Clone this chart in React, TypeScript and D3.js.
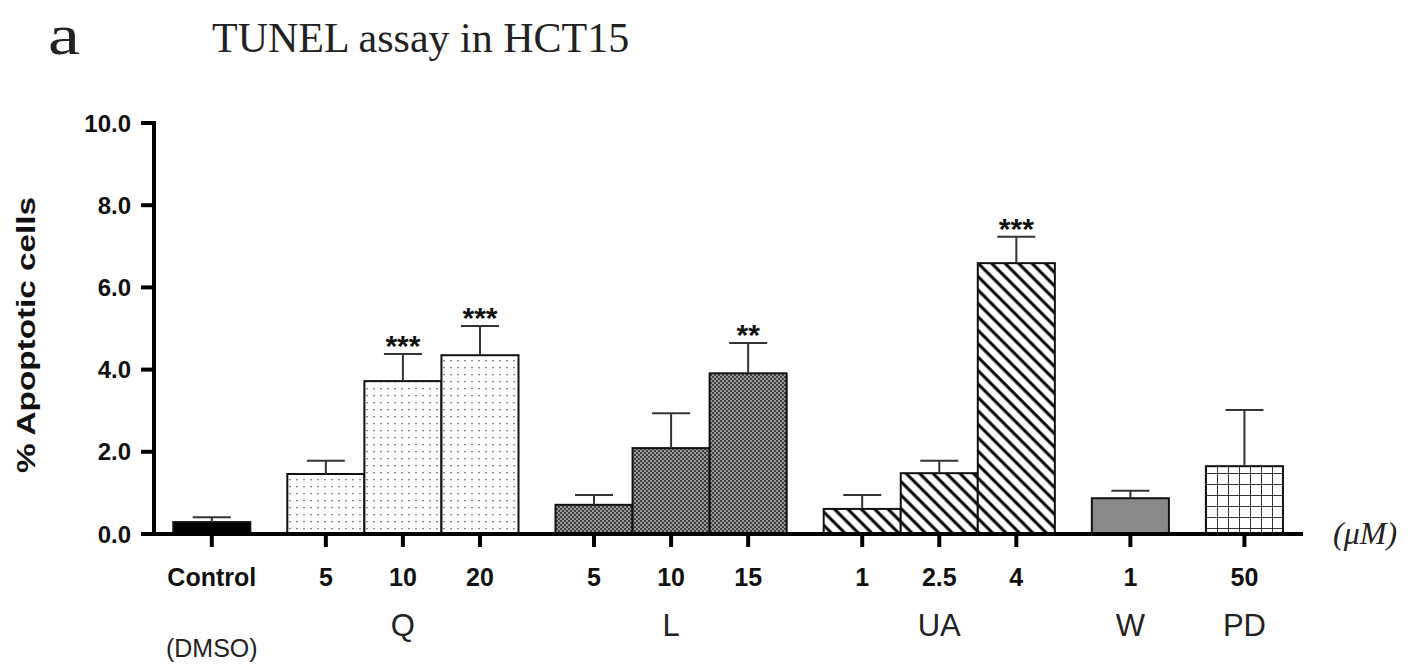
import React from "react";
import * as d3 from "d3";

// TUNEL assay in HCT15 — % apoptotic cells per treatment
const doses = ["Control", "5", "10", "20", "5", "10", "15", "1", "2.5", "4", "1", "50"];
const groups = ["Control", "Q", "Q", "Q", "L", "L", "L", "UA", "UA", "UA", "W", "PD"];
const means = [0.29, 1.46, 3.72, 4.35, 0.71, 2.09, 3.91, 0.61, 1.48, 6.59, 0.87, 1.65];
const sems = [0.12, 0.32, 0.66, 0.71, 0.24, 0.85, 0.74, 0.34, 0.3, 0.64, 0.18, 1.37];
const stars = ["", "", "***", "***", "", "", "**", "", "", "***", "", ""];
const groupNames = ["Q", "L", "UA", "W", "PD"];
const yTicks = [0, 2, 4, 6, 8, 10];

const width = 1416;
const height = 664;
const sans = "'Liberation Sans', Arial, Helvetica, sans-serif";
const serif = "'Liberation Serif', 'Times New Roman', serif";

const fills = {
  Control: "#000",
  Q: "url(#dotsQ)",
  L: "url(#dotsL)",
  UA: "url(#hatchUA)",
  W: "#8a8a8a",
  PD: "url(#gridPD)",
};

export default function App() {
  const y = d3.scaleLinear().domain([0, 10]).range([534, 123]);

  // slot index with a gap between treatment groups
  let gapCount = 0;
  const slots = groups.map((g, i) => {
    if (i > 0 && g !== groups[i - 1]) gapCount++;
    return i + gapCount * 0.48;
  });
  const x = d3.scaleLinear().domain([-0.75, 14.16]).range([154, 1303]);
  const bw = x(1) - x(0);
  const x0 = x.range()[0];
  const x1 = x.range()[1];

  const groupCenter = (name) => {
    const s = slots.filter((_, i) => groups[i] === name);
    return x(d3.mean(s));
  };

  return (
    <svg
      width={width}
      height={height}
      style={{ position: "absolute", left: 0, top: 0, background: "#fff" }}
    >
      <defs>
        <pattern id="dotsQ" width="7" height="7" patternUnits="userSpaceOnUse">
          <rect width="7" height="7" fill="#fff" />
          <rect x="2" y="3" width="2" height="1.3" fill="#8a8a8a" />
        </pattern>
        <pattern id="dotsL" width="4" height="4" patternUnits="userSpaceOnUse">
          <rect width="4" height="4" fill="#9a9a9a" />
          <circle cx="1" cy="1" r="1" fill="#222" />
          <circle cx="3" cy="3" r="1" fill="#222" />
        </pattern>
        <pattern
          id="hatchUA"
          width="9.5"
          height="9.5"
          patternUnits="userSpaceOnUse"
          patternTransform="rotate(-45)"
        >
          <rect width="9.5" height="9.5" fill="#fff" />
          <line x1="2" y1="0" x2="2" y2="9.5" stroke="#000" strokeWidth="3" />
        </pattern>
        <pattern id="gridPD" width="11" height="11" patternUnits="userSpaceOnUse" x="1206" y="0">
          <rect width="11" height="11" fill="#fff" />
          <line x1="0" y1="0" x2="11" y2="0" stroke="#000" strokeWidth="1.6" />
          <line x1="0" y1="0" x2="0" y2="11" stroke="#000" strokeWidth="1.6" />
        </pattern>
      </defs>

      {/* title */}
      <text
        x={48}
        y={54}
        fontFamily={serif}
        fontSize={56}
        textLength={32}
        lengthAdjust="spacingAndGlyphs"
        fill="#222"
      >
        a
      </text>
      <text x={212} y={52} fontFamily={serif} fontSize={42} fill="#222">
        TUNEL assay in HCT15
      </text>

      {/* bars */}
      {means.map((m, i) => (
        <rect
          key={"b" + i}
          x={x(slots[i]) - bw / 2}
          y={y(m)}
          width={bw}
          height={y(0) - y(m)}
          fill={fills[groups[i]]}
          stroke="#111"
          strokeWidth={2}
        />
      ))}

      {/* error bars */}
      {means.map((m, i) => {
        const cx = x(slots[i]);
        const top = y(m + sems[i]);
        return (
          <g key={"e" + i} stroke="#333" strokeWidth={2}>
            <line x1={cx} x2={cx} y1={y(m)} y2={top} />
            <line x1={cx - 19} x2={cx + 19} y1={top} y2={top} />
          </g>
        );
      })}

      {/* significance stars */}
      {stars.map((s, i) =>
        s ? (
          <text
            key={"s" + i}
            x={x(slots[i])}
            y={y(means[i] + sems[i]) + 2}
            textAnchor="middle"
            fontFamily={sans}
            fontWeight="bold"
            fontSize={30}
            fill="#111"
          >
            {s}
          </text>
        ) : null
      )}

      {/* y axis */}
      <line x1={x0} x2={x0} y1={y(10) - 2} y2={y(0) + 2} stroke="#000" strokeWidth={4} />
      {yTicks.map((t) => (
        <g key={"yt" + t}>
          <line x1={x0 - 13} x2={x0} y1={y(t)} y2={y(t)} stroke="#000" strokeWidth={4} />
          <text
            x={131}
            y={y(t)}
            dy="0.36em"
            textAnchor="end"
            fontFamily={sans}
            fontWeight="bold"
            fontSize={24}
            fill="#111"
          >
            {t.toFixed(1)}
          </text>
        </g>
      ))}
      <text
        transform={`translate(26,335) rotate(-90)`}
        textAnchor="middle"
        dy="0.36em"
        fontFamily={sans}
        fontWeight="bold"
        fontSize={26}
        textLength={276}
        lengthAdjust="spacingAndGlyphs"
        fill="#111"
      >
        % Apoptotic cells
      </text>

      {/* x axis */}
      <line x1={x0 - 13} x2={x1} y1={y(0)} y2={y(0)} stroke="#000" strokeWidth={4} />
      {slots.map((s, i) => (
        <g key={"xt" + i}>
          <line x1={x(s)} x2={x(s)} y1={y(0)} y2={y(0) + 13} stroke="#000" strokeWidth={4} />
          <text
            x={x(s)}
            y={586}
            textAnchor="middle"
            fontFamily={sans}
            fontWeight="bold"
            fontSize={25}
            fill="#111"
          >
            {doses[i]}
          </text>
        </g>
      ))}
      <text x={x(slots[0])} y={657} textAnchor="middle" fontFamily={sans} fontSize={25} fill="#222">
        (DMSO)
      </text>
      {groupNames.map((g) => (
        <text
          key={"g" + g}
          x={groupCenter(g)}
          y={636}
          textAnchor="middle"
          fontFamily={sans}
          fontSize={31}
          fill="#222"
        >
          {g}
        </text>
      ))}
      <text x={1333} y={544} fontFamily={serif} fontStyle="italic" fontSize={32} fill="#222">
        ({"\u03bc"}M)
      </text>
    </svg>
  );
}
